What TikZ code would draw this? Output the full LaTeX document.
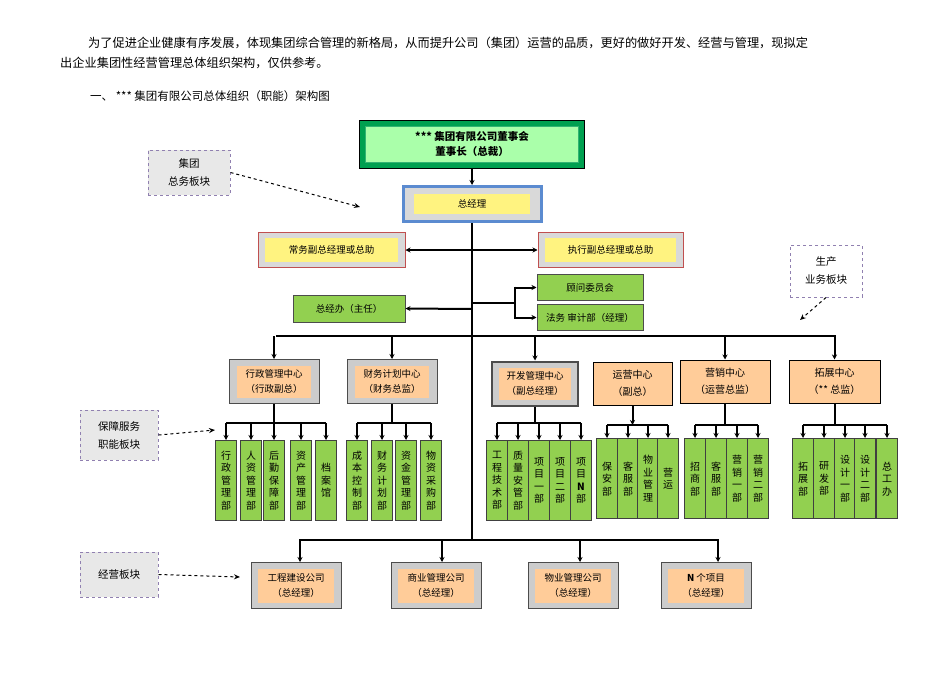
\documentclass[tikz,border=0pt]{standalone}
\usepackage{fontspec}
\newfontfamily\cjk{Noto Sans CJK SC}
\usetikzlibrary{arrows.meta,positioning,calc}
\definecolor{subg}{HTML}{92D050}
\definecolor{dg}{HTML}{00A050}
\definecolor{lg}{HTML}{AAFFAA}
\definecolor{yl}{HTML}{FFF380}
\definecolor{org}{HTML}{FFCC99}
\definecolor{bl}{HTML}{5B8BD0}
\definecolor{rd}{HTML}{C05050}
\definecolor{pu}{HTML}{9080B0}
\begin{document}
\begin{tikzpicture}[x=1pt,y=-1pt,
  every node/.style={font=\cjk\fontsize{9.5}{12}\selectfont},
  ln/.style={line width=2pt,black},
  arr/.style={line width=2pt,black,-{Stealth[length=5pt,width=5pt]}},
  darr/.style={line width=1pt,black,dashed,-{Stealth[length=6pt,width=5pt]}},
  sub/.style={draw=black!75,fill=subg,line width=0.8pt,minimum width=21,minimum height=80,inner sep=0pt,align=center,anchor=north,font=\cjk\fontsize{10}{12.5}\selectfont},
  side/.style={draw=pu,dashed,fill=gray!18,line width=1pt,align=center,inner sep=0pt,font=\cjk\fontsize{10.5}{18}\selectfont},
  gbox/.style={draw=black!70,fill=gray!40,line width=1pt,inner sep=0pt},
  oin/.style={fill=org,inner sep=0pt,align=center},
  obox/.style={draw=black,fill=org,line width=1pt,align=center,inner sep=0pt,font=\cjk\fontsize{10}{17}\selectfont},
  gr/.style={draw=black!70,fill=subg,line width=1pt,inner sep=0pt,minimum width=106,minimum height=26},
  para/.style={anchor=west,inner sep=0,font=\cjk\fontsize{12.2}{14}\selectfont}
]
\useasboundingbox (0,0) rectangle (950,672);
% texts
\node[para] (t1) at (88,43) {为了促进企业健康有序发展，体现集团综合管理的新格局，从而提升公司（集团）运营的品质，更好的做好开发、经营与管理，现拟定};
\node[para] (t2) at (60,63) {出企业集团性经营管理总体组织架构，仅供参考。};
\node[para,font=\cjk\fontsize{11.5}{14}\selectfont] (t3) at (90,96) {一、 *** 集团有限公司总体组织（职能）架构图};
% board
\node[draw=black,fill=dg,line width=1pt,minimum width=225,minimum height=48,inner sep=0] (board) at (472,144) {};
\node[fill=lg,draw=dg!80,minimum width=213,minimum height=36,inner sep=0,align=center,font=\cjk\bfseries\fontsize{10.5}{15}\selectfont] (boardt) at (board) {*** 集团有限公司董事会\\董事长（总裁）};
% GM
\node[draw=bl,fill=gray!30,line width=3pt,minimum width=138,minimum height=35,inner sep=0] (gm) at (472,204) {};
\node[fill=yl,minimum width=116,minimum height=20,inner sep=0] (gmt) at (gm) {总经理};
% vice
\node[draw=rd,fill=gray!30,line width=1pt,minimum width=147,minimum height=35,inner sep=0] (v1) at (331.5,250) {};
\node[fill=yl,minimum width=133,minimum height=24,inner sep=0] (v1t) at (v1) {常务副总经理或总助};
\node[draw=rd,fill=gray!30,line width=1pt,minimum width=145,minimum height=35,inner sep=0] (v2) at (610.5,250) {};
\node[fill=yl,minimum width=131,minimum height=24,inner sep=0] (v2t) at (v2) {执行副总经理或总助};
% office
\node[gr,minimum width=112,minimum height=27] (zjb) at (349,308.5) {总经办（主任）};
\node[gr] (gw) at (590,287.5) {顾问委员会};
\node[gr] (fw) at (590,317.5) {法务 审计部（经理）};
% trunk
\coordinate (bus) at (472,336);
\coordinate (low) at (472,540);
\coordinate (br) at (515,303);
\draw[arr] (board.south) -- (gm.north);
\draw[ln] (gm.south) -- (low);
\draw[arr] (472,250) -- (v1.east);
\draw[arr] (472,250) -- (v2.west);
\draw[arr] (472,309) -- (zjb.east);
\draw[ln] (472,303) -- (br);
\draw[ln] (515,286.5) -- (515,318.5);
\draw[arr] (514,287.5) -- (gw.west);
\draw[arr] (514,317.5) -- (fw.west);
% main bus
\draw[ln] (276,336) -- (836,336);
% centers
\node[gbox,minimum width=90,minimum height=44] (xz) at (274,381.5) {};
\node[oin,minimum width=74,minimum height=32,font=\cjk\fontsize{9.5}{15}\selectfont] (xzt) at (xz) {行政管理中心\\（行政副总）};
\node[gbox,minimum width=90,minimum height=44] (cw) at (392,381.5) {};
\node[oin,minimum width=74,minimum height=32,font=\cjk\fontsize{9.5}{15}\selectfont] (cwt) at (cw) {财务计划中心\\（财务总监）};
\node[gbox,minimum width=86,minimum height=44,line width=2pt] (kf) at (535,383.5) {};
\node[oin,minimum width=72,minimum height=32,font=\cjk\fontsize{9.5}{15}\selectfont] (kft) at (kf) {开发管理中心\\（副总经理）};
\node[obox,minimum width=79,minimum height=43] (yy) at (632.5,383.5) {运营中心\\（副总）};
\node[obox,minimum width=90,minimum height=43] (yx) at (725,381.5) {营销中心\\（运营总监）};
\node[obox,minimum width=91,minimum height=43] (tz) at (834.5,381.5) {拓展中心\\（** 总监）};
\draw[arr] (xz.north |- bus) -- (xz.north);
\draw[arr] (cw.north |- bus) -- (cw.north);
\draw[arr] (kf.north |- bus) -- (kf.north);
\draw[arr] (yx.north |- bus) -- (yx.north);
\draw[arr] (tz.north |- bus) -- (tz.north);
% sub boxes
\coordinate (by) at (0,423);
\coordinate (by2) at (0,425);
\foreach \n/\x/\t in {a1/226/{行\\政\\管\\理\\部},a2/251/{人\\资\\管\\理\\部},a3/274/{后\\勤\\保\\障\\部},a4/301/{资\\产\\管\\理\\部},a5/326/{档\\案\\馆},
 b1/357/{成\\本\\控\\制\\部},b2/382/{财\\务\\计\\划\\部},b3/406/{资\\金\\管\\理\\部},b4/431/{物\\资\\采\\购\\部},
 c1/497/{工\\程\\技\\术\\部},c2/518/{质\\量\\安\\管\\部},c3/539/{项\\目\\一\\部},c4/560/{项\\目\\二\\部},c5/581/{项\\目\\\textbf{N}\\部}}
  \node[sub] (\n) at (\x,440) {\t};
\foreach \n/\x/\t in {d1/607/{保\\安\\部},d2/628/{客\\服\\部},d3/648/{物\\业\\管\\理},d4/668/{营\\运},
 e1/695/{招\\商\\部},e2/716/{客\\服\\部},e3/737/{营\\销\\一\\部},e4/758/{营\\销\\二\\部},
 f1/803/{拓\\展\\部},f2/824/{研\\发\\部},f3/845/{设\\计\\一\\部},f4/865/{设\\计\\二\\部},f5/887/{总\\工\\办}}
  \node[sub,minimum height=80,text depth=0pt] (\n) at (\x,438) {\t};
% sub bars
\draw[ln] (a1.north |- by) -- (a5.north |- by);
\draw[ln] (xz.south) -- (xz.south |- by);
\foreach \n in {a1,a2,a3,a4,a5} \draw[arr] (\n.north |- by) -- (\n.north);
\draw[ln] (b1.north |- by) -- (b4.north |- by);
\draw[ln] (cw.south) -- (cw.south |- by);
\foreach \n in {b1,b2,b3,b4} \draw[arr] (\n.north |- by) -- (\n.north);
\draw[ln] (c1.north |- by) -- (c5.north |- by);
\draw[ln] (kf.south) -- (kf.south |- by);
\foreach \n in {c1,c2,c3,c4,c5} \draw[arr] (\n.north |- by) -- (\n.north);
\draw[ln] (d1.north |- by2) -- (d4.north |- by2);
\draw[arr] (yy.south) -- (yy.south |- by2);
\foreach \n in {d1,d2,d3,d4} \draw[arr] (\n.north |- by2) -- (\n.north);
\draw[ln] (e1.north |- by2) -- (e4.north |- by2);
\draw[ln] (yx.south) -- (yx.south |- by2);
\foreach \n in {e1,e2,e3,e4} \draw[arr] (\n.north |- by2) -- (\n.north);
\draw[ln] (f1.north |- by2) -- (f5.north |- by2);
\draw[ln] (tz.south) -- (tz.south |- by2);
\foreach \n in {f1,f2,f3,f4,f5} \draw[arr] (\n.north |- by2) -- (\n.north);
% bottom companies
\draw[ln] (299,540) -- (719,540);
\foreach \n/\x/\t in {g1/296/{工程建设公司\\（总经理）},g2/436/{商业管理公司\\（总经理）},g3/573/{物业管理公司\\（总经理）},g4/706/{\textbf{N} 个项目\\（总经理）}}{
  \node[gbox,minimum width=90,minimum height=46] (\n) at (\x,585.5) {};
  \node[oin,minimum width=76,minimum height=34,font=\cjk\fontsize{9.5}{15}\selectfont] (\n t) at (\n) {\t};
}
\draw[arr] (300,540) -- (300,562);
\draw[arr] (442,540) -- (442,562);
\draw[arr] (580,540) -- (580,562);
\draw[arr] (718,540) -- (718,562);
% side labels
\node[side,minimum width=82,minimum height=45] (s1) at (189,172.5) {集团\\总务板块};
\node[side,minimum width=78,minimum height=50] (s2) at (119,435) {保障服务\\职能板块};
\node[side,minimum width=78,minimum height=45] (s3) at (119,574.5) {经营板块};
\node[side,fill=white,minimum width=72,minimum height=52] (s4) at (826,271) {生产\\业务板块};
\coordinate (p1) at (360,207);
\coordinate (p2) at (215,430);
\coordinate (p3) at (240,577);
\coordinate (p4) at (800,320);
\draw[darr] (s1.east) -- (p1);
\draw[darr] (s2.east) -- (p2);
\draw[darr] (s3.east) -- (p3);
\draw[darr] (s4.south) -- (p4);
\end{tikzpicture}
\end{document}
